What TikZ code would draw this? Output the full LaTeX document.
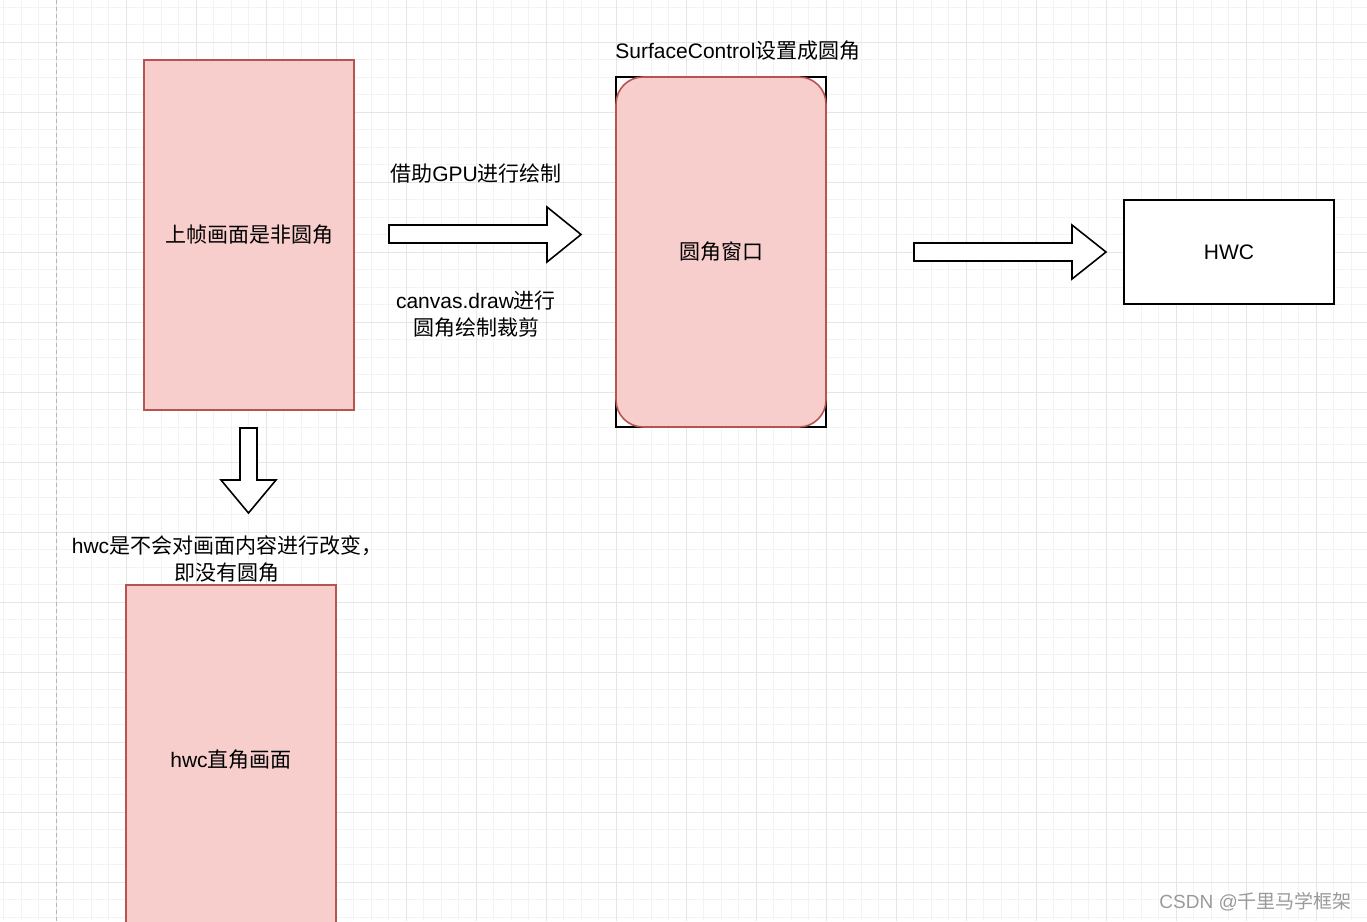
\documentclass[tikz,border=0pt]{standalone}
\usepackage{fontspec}
\setmainfont{Liberation Sans}
\newfontfamily\cjk{Noto Sans CJK SC}
\newcommand{\zhtxt}[1]{{\cjk #1}}
\definecolor{pinkfill}{HTML}{F8CECC}
\definecolor{pinkdraw}{HTML}{B85450}
\definecolor{gridminor}{HTML}{F3F3F3}
\definecolor{gridmajor}{HTML}{E5E5E5}
\definecolor{pagedash}{HTML}{B5B5B5}
\definecolor{wmgray}{HTML}{9A9A9A}
\tikzset{
  pinkbox/.style={draw=pinkdraw, fill=pinkfill, line width=1.6pt, minimum width=210pt, minimum height=350pt, inner sep=0pt},
  blackbox/.style={draw=black, line width=1.6pt, minimum width=210pt, inner sep=0pt},
  lbl/.style={inner sep=0pt, align=center, font=\fontsize{21}{27}\selectfont},
  blockarrow/.style={draw=black, fill=white, line width=1.6pt, line join=miter},
  minorline/.style={gridminor, line width=1pt},
  majorline/.style={gridmajor, line width=1pt}
}
\begin{document}
\begin{tikzpicture}[x=1pt,y=-1pt]
\useasboundingbox (0,0) rectangle (1367,921);
\clip (0,0) rectangle (1367,921);
\fill[white] (0,0) rectangle (1367,921);
% grid
\foreach \i in {0,...,78} { \draw[minorline] ({3.5+17.5*\i},0) -- ({3.5+17.5*\i},921); }
\foreach \j in {0,...,53} { \draw[minorline] (0,{7+17.5*\j}) -- (1367,{7+17.5*\j}); }
\foreach \i in {0,...,19} { \draw[majorline] ({56+70*\i},0) -- ({56+70*\i},921); }
\foreach \j in {0,...,13} { \draw[majorline] (0,{42+70*\j}) -- (1367,{42+70*\j}); }
\draw[pagedash, line width=1pt, dash pattern=on 4pt off 3pt] (56.5,0) -- (56.5,921);

% left top rect
\node[pinkbox] (r1) at (249,235) {};
\node[lbl] (r1t) at (249,235) {\zhtxt{上帧画面是非圆角}};

% down arrow
\draw[blockarrow] (240,428) -- (257,428) -- (257,480) -- (276,480) -- (248.5,513) -- (221,480) -- (240,480) -- cycle;

\node[lbl] (hwcnote) at (227,559) {hwc\zhtxt{是不会对画面内容进行改变，}\\\zhtxt{即没有圆角}};

% bottom rect
\node[pinkbox] (r2) at (231,760) {};
\node[lbl] (r2t) at (231,760) {hwc\zhtxt{直角画面}};

% right arrow 1
\draw[blockarrow] (389,225) -- (547,225) -- (547,207) -- (581,234.5) -- (547,262) -- (547,243) -- (389,243) -- cycle;
\node[lbl] (gpu) at (476,174) {\zhtxt{借助}GPU\zhtxt{进行绘制}};
\node[lbl] (canvas) at (476,314) {canvas.draw\zhtxt{进行}\\\zhtxt{圆角绘制裁剪}};

% surface control window
\node[blackbox, minimum height=350pt] (sc) at (721,252) {};
\node[pinkbox, rounded corners=27pt] (win) at (721,252) {};
\node[lbl] (wint) at (721,252) {\zhtxt{圆角窗口}};
\node[lbl] (sct) at (738,51) {SurfaceControl\zhtxt{设置成圆角}};

% right arrow 2
\draw[blockarrow] (914,243) -- (1072,243) -- (1072,225) -- (1106,252) -- (1072,279) -- (1072,261) -- (914,261) -- cycle;

% HWC
\node[blackbox, minimum height=104pt, fill=white] (hwc) at (1229,252) {};
\node[lbl] (hwct) at (1229,252) {HWC};

% watermark
\node[inner sep=0pt, anchor=east, text=wmgray, font=\fontsize{19}{22}\selectfont] (wm) at (1352,902) {CSDN @\zhtxt{千里马学框架}};
\end{tikzpicture}
\end{document}
